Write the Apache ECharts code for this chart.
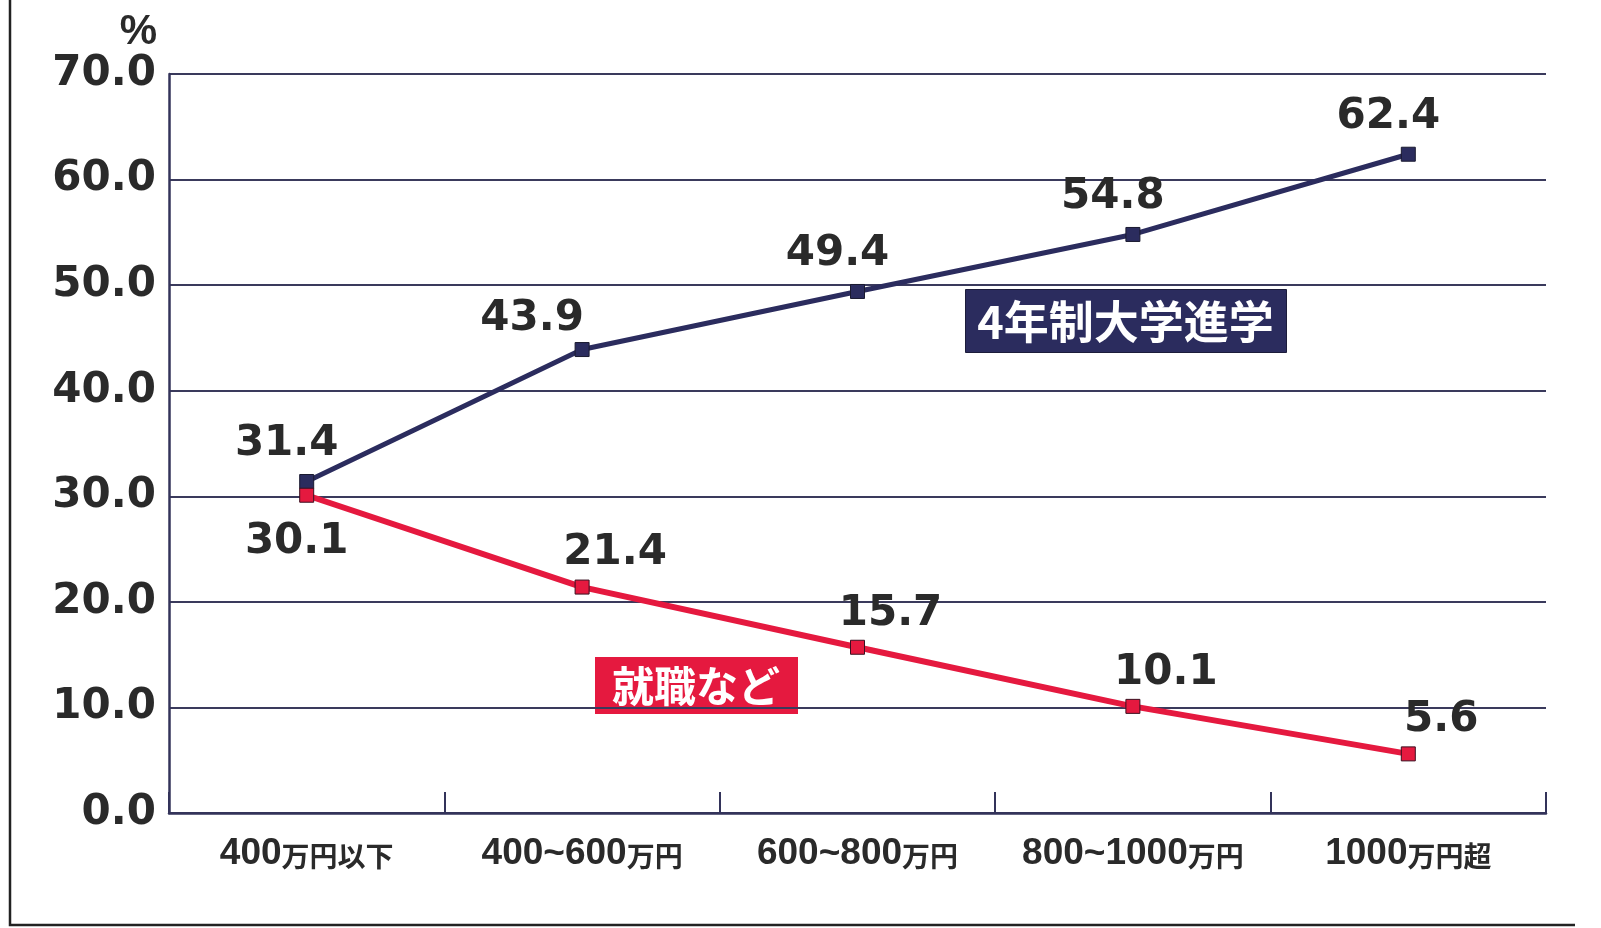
<!DOCTYPE html>
<html>
<head>
<meta charset="utf-8">
<script src="https://cdn.jsdelivr.net/npm/echarts@6/dist/echarts.min.js"></script>
<style>
html,body{margin:0;padding:0;background:#fff;}
#main{width:1601px;height:928px;}
</style>
</head>
<body>
<div id="main"></div>
<script>
const categories = ['400万円以下', '400~600万円', '600~800万円', '800~1000万円', '1000万円超'];
const university = [31.4, 43.9, 49.4, 54.8, 62.4];
const employment = [30.1, 21.4, 15.7, 10.1, 5.6];
const yTicks = { min: 0, max: 70, interval: 10 };
const seriesNames = ['4年制大学進学', '就職など'];

const NAVY = '#2b2c5e';
const RED = '#e5193f';
const NUMFONT = '"DejaVu Sans", "Liberation Sans", sans-serif';
const CJK = '"Noto Sans CJK JP", sans-serif';

const chart = echarts.init(document.getElementById('main'));

const labelBase = {
  show: true,
  fontFamily: NUMFONT,
  fontWeight: 'bold',
  fontSize: 42,
  color: '#2a2a2a',
  formatter: p => Number(p.value).toFixed(1)
};

const option = {
  backgroundColor: '#fff',
  animation: false,
  grid: { left: 169, right: 55, top: 74, bottom: 115, containLabel: false },
  xAxis: {
    type: 'category',
    data: categories,
    boundaryGap: true,
    axisLine: { show: true, lineStyle: { color: '#33335a', width: 2.5 } },
    axisTick: { show: true, inside: true, length: 21, lineStyle: { color: '#33335a', width: 2 } },
    axisLabel: {
      margin: 22,
      formatter: function (v) {
        const m = v.match(/^([0-9〜~]+)(.*)$/);
        return m ? '{n|' + m[1] + '}{k|' + m[2] + '}' : v;
      },
      rich: {
        n: { fontFamily: '"Liberation Sans", ' + CJK, fontWeight: 'bold', fontSize: 37, color: '#2a2a2a' },
        k: { fontFamily: CJK, fontWeight: 'bold', fontSize: 28, color: '#2a2a2a', padding: [6, 0, 0, 0] }
      }
    },
    splitLine: { show: false }
  },
  yAxis: {
    type: 'value',
    min: yTicks.min,
    max: yTicks.max,
    interval: yTicks.interval,
    name: '%',
    nameLocation: 'end',
    nameGap: 21,
    nameTextStyle: { fontFamily: '"Liberation Sans Narrow", "Liberation Sans", sans-serif', fontWeight: 'bold', fontSize: 42, color: '#2a2a2a', align: 'right', padding: [0, 12, 0, 0] },
    axisLine: { show: true, lineStyle: { color: '#33335a', width: 2.5 } },
    axisTick: { show: false },
    axisLabel: {
      margin: 13,
      fontFamily: NUMFONT,
      fontWeight: 'bold',
      fontSize: 42,
      color: '#2a2a2a',
      formatter: v => v.toFixed(1)
    },
    splitLine: { show: true, lineStyle: { color: '#3a3a5c', width: 2.2 } }
  },
  series: [
    {
      name: seriesNames[0],
      type: 'line',
      data: university.map((v, i) => i === 1
        ? { value: v, label: { offset: [-50, 4] } }
        : v),
      z: 3,
      symbol: 'rect',
      symbolSize: 14,
      lineStyle: { color: NAVY, width: 5 },
      itemStyle: { color: NAVY, borderColor: '#1a1a30', borderWidth: 1 },
      label: Object.assign({}, labelBase, { position: 'top', distance: 6, offset: [-20, -3] })
    },
    {
      name: seriesNames[1],
      type: 'line',
      z: 4,
      data: employment.map((v, i) => i === 0
        ? { value: v, label: { position: 'bottom', distance: 18, offset: [-10, 0] } }
        : v),
      symbol: 'rect',
      symbolSize: 14,
      lineStyle: { color: RED, width: 6 },
      itemStyle: { color: RED, borderColor: '#3a1020', borderWidth: 1 },
      label: Object.assign({}, labelBase, { position: 'top', distance: 6, offset: [33, 1] })
    }
  ],
  graphic: [
    {
      type: 'polyline',
      shape: { points: [[10, 0], [10, 925], [1575, 925]] },
      style: { stroke: '#222', lineWidth: 2.5, fill: null },
      silent: true
    },
    {
      type: 'group',
      left: 965, top: 289,
      children: [
        { type: 'rect', shape: { x: 0, y: 0, width: 321, height: 63 }, style: { fill: NAVY, stroke: '#1c1c3a', lineWidth: 1 } },
        { type: 'text', x: 160, y: 32, style: { text: seriesNames[0], fill: '#fff', font: 'bold 45px ' + CJK, align: 'center', verticalAlign: 'middle' } }
      ]
    },
    {
      type: 'group',
      left: 595, top: 657,
      children: [
        { type: 'rect', shape: { x: 0, y: 0, width: 203, height: 57 }, style: { fill: RED } },
        { type: 'text', x: 101, y: 29, style: { text: seriesNames[1], fill: '#fff', font: 'bold 42px ' + CJK, align: 'center', verticalAlign: 'middle' } }
      ]
    }
  ]
};

chart.setOption(option);
</script>
</body>
</html>
